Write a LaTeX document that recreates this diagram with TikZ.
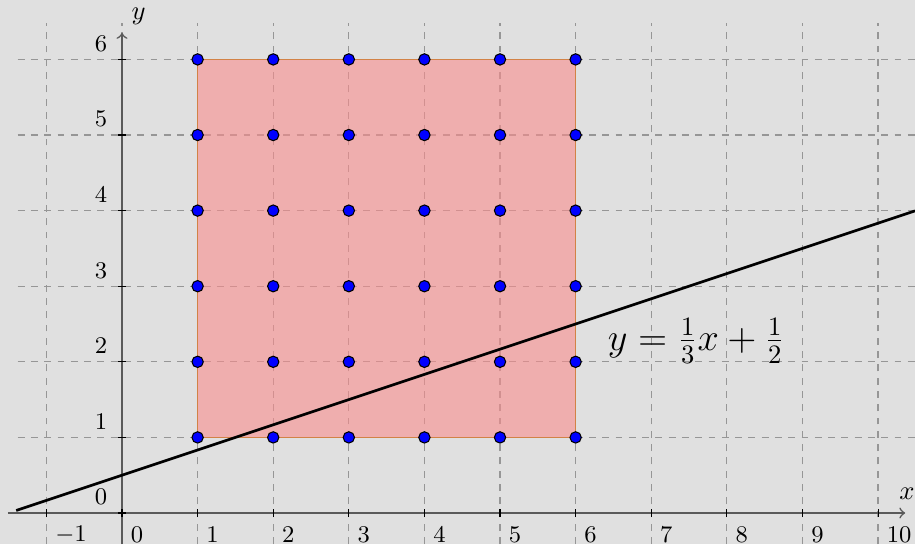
\documentclass[tikz,border=0pt]{standalone}
\usepackage{amsmath}
\definecolor{bgc}{RGB}{224,224,224}
\definecolor{gridc}{RGB}{150,150,150}
\definecolor{axisc}{RGB}{90,90,90}
\definecolor{regfill}{RGB}{249,141,141}
\definecolor{regdraw}{RGB}{210,130,70}
\begin{document}
\begin{tikzpicture}[x=1cm,y=1cm,
  gridline/.style={draw=gridc,line width=0.5pt,dash pattern=on 2.6pt off 2.4pt},
  axisline/.style={draw=axisc,line width=0.6pt},
  tickmark/.style={draw=black,line width=0.4pt},
  ticklabel/.style={inner sep=0pt,font=\small},
  dotnode/.style={circle,fill=blue,draw=black,line width=0.4pt,minimum size=0.15cm,inner sep=0pt},
  region/.style={fill=regfill,fill opacity=0.6,draw=regdraw,line width=0.6pt}]
\fill[bgc] (-1.614,-0.41) rectangle (10.489,6.786);
\useasboundingbox (-1.614,-0.41) rectangle (10.489,6.786);
% grid
\foreach \i in {-1,...,10} {\path[gridline] (\i,-0.41) -- (\i,6.48);}
\foreach \j in {1,...,6} {\path[gridline] (-1.38,\j) -- (10.489,\j);}
% region
\path[region] (1,1) rectangle (6,6);
% axes
\coordinate (xs) at (-1.51,0);
\coordinate (xe) at (10.36,0);
\coordinate (ys) at (0,-0.41);
\coordinate (ye) at (0,6.35);
\path[axisline,->] (xs) -- (xe);
\path[axisline,->] (ys) -- (ye);
\node[inner sep=0pt,anchor=east] (xlab) at (10.489,0.26) {$x$};
\node[inner sep=0pt] (ylab) at (0.22,6.57) {$y$};
% ticks and labels
\foreach \i in {-1,...,10} {
  \path[tickmark] (\i,-0.05) -- (\i,0.05);
  \node[ticklabel,anchor=west] (lx\i) at (\i+0.11,-0.29) {$\i$};
}
\foreach \j in {0,...,6} {
  \path[tickmark] (-0.05,\j) -- (0.05,\j);
  \node[ticklabel,anchor=east] (ly\j) at (-0.19,\j+0.21) {$\j$};
}
% line
\coordinate (ls) at (-1.4,0.0333);
\coordinate (le) at (10.489,3.9963);
\draw[black,line width=1pt] (ls) -- (le);
\node (eq) at (7.595,2.28) {\Large $y=\frac{1}{3}x+\frac{1}{2}$};
% dots
\foreach \i in {1,...,6} {
  \foreach \j in {1,...,6} {
    \node[dotnode] (p\i\j) at (\i,\j) {};
  }
}
\end{tikzpicture}
\end{document}
